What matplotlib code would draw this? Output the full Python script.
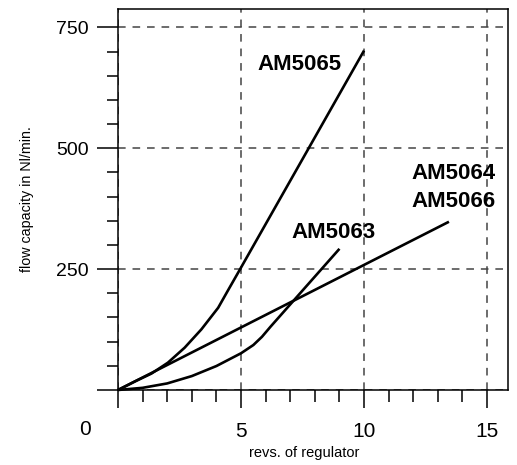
import matplotlib
matplotlib.use("Agg")
import matplotlib.pyplot as plt
from matplotlib.ticker import MultipleLocator

plt.rcParams["font.family"] = ["Liberation Sans", "DejaVu Sans"]

# ── data ──
am5065_x = [0, 0.7, 1.36, 2.03, 2.71, 3.39, 4.07, 4.47, 4.93, 10.0]
am5065_y = [0, 18, 34, 56.6, 87.6, 125.5, 170, 206, 247, 702]

am5063_x = [0, 1.0, 2.0, 3.0, 4.0, 5.0, 5.5, 5.85, 6.2, 9.0]
am5063_y = [0, 4.5, 13.6, 28.8, 49.6, 76, 93, 110, 131, 292]

am5064_x = [0, 13.45]
am5064_y = [0, 348]

x_major = [0, 5, 10, 15]
x_labels = ["", "5", "10", "15"]
y_major = [0, 250, 500, 750]
y_labels = ["", "250", "500", "750"]

# ── figure ──
fig = plt.figure(figsize=(5.17, 4.65), dpi=100)
ax = fig.add_axes([118 / 517, 75 / 465, 390 / 517, 381 / 465])

for xs, ys in [(am5065_x, am5065_y), (am5063_x, am5063_y), (am5064_x, am5064_y)]:
    ax.plot(xs, ys, color="black", lw=1.9, solid_capstyle="butt",
            solid_joinstyle="round", clip_on=False, zorder=3)

ax.set_xlim(0, 15.85)
ax.set_ylim(0, 788)

ax.set_xticks(x_major)
ax.set_xticklabels(x_labels, fontsize=15)
ax.set_yticks(y_major)
ax.set_yticklabels(y_labels, fontsize=14)
ax.xaxis.set_minor_locator(MultipleLocator(1))
ax.yaxis.set_minor_locator(MultipleLocator(50))

ax.tick_params(axis="x", which="major", direction="out", length=13, width=1.1, pad=10)
ax.tick_params(axis="x", which="minor", direction="out", length=8.5, width=1.1)
ax.tick_params(axis="y", which="major", direction="out", length=15, width=1.1, pad=6)
ax.tick_params(axis="y", which="minor", direction="out", length=8, width=1.1)

ax.grid(True, which="major", color="#444444", lw=1.1, linestyle=(0, (5, 4.5)))
for sp in ax.spines.values():
    sp.set_linewidth(1.1)
    sp.set_color("black")

ax.set_xlabel("revs. of regulator", fontsize=10.5)
ax.xaxis.set_label_coords((304.5 - 118) / 390, (390 - 446) / 381)
ax.set_ylabel("flow capacity in Nl/min.", fontsize=10.3)
ax.yaxis.set_label_coords((34 - 118) / 390, 0.5)

# shared origin label, below and left of the corner
ax.text((85 - 118) / 390, (390 - 420) / 381, "0", fontsize=15, ha="center", va="top",
        transform=ax.transAxes, clip_on=False)

# curve labels
bold = dict(fontsize=16, fontweight="bold", ha="center", va="center")
ax.text(7.36, 674, "AM5065", **bold)
ax.text(8.74, 325, "AM5063", **bold)
ax.text(13.65, 447, "AM5064", **bold)
ax.text(13.65, 390, "AM5066", **bold)

fig.savefig("out.png", dpi=100)
